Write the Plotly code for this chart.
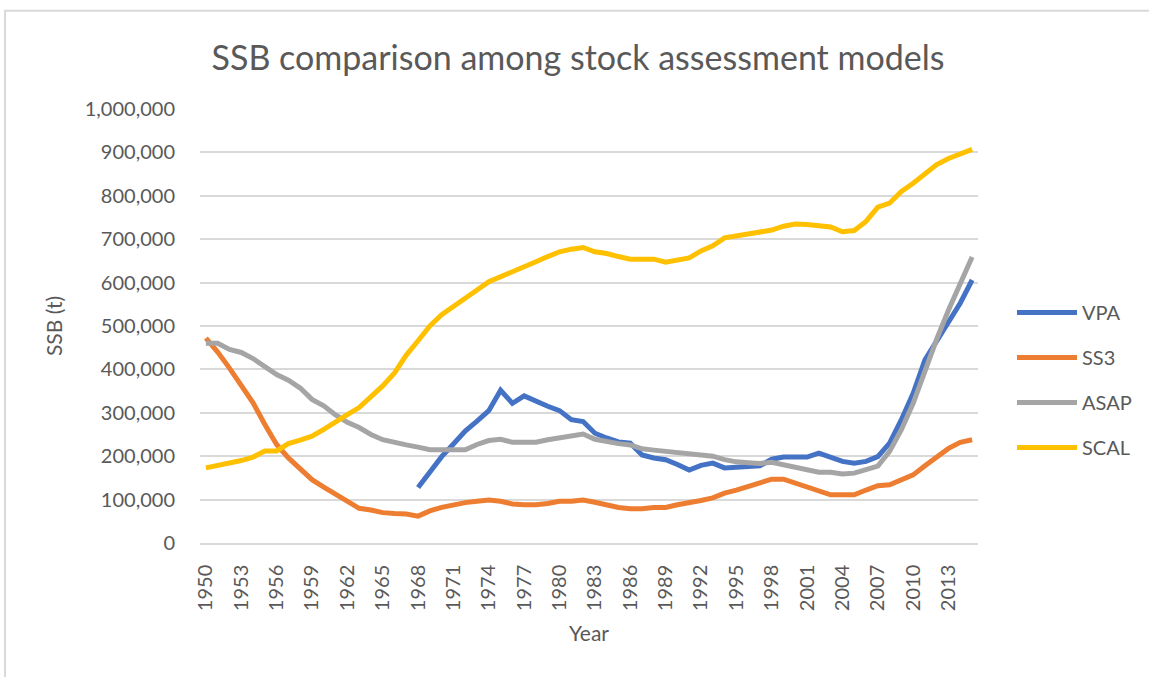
import plotly.graph_objects as go

years = list(range(1950, 2016))

vpa = [None] * 18 + [
    128, 163, 199, 228, 258, 281, 305, 352, 322, 339,
    326, 315, 305, 284, 280, 253, 242, 233, 230, 203,
    196, 192, 181, 168, 179, 184, 173, 175, 175, 178,
    193, 198, 198, 198, 207, 196, 188, 184, 188, 199,
    230, 284, 345, 422, 464, 510, 553, 606]

ss3 = [472, 440, 403, 365, 323, 273, 227, 196, 169, 146,
       129, 112, 96, 80, 76, 70, 68, 67, 62, 74,
       82, 88, 93, 96, 99, 96, 90, 88, 88, 91,
       96, 96, 99, 94, 88, 82, 79, 79, 82, 82,
       88, 92, 98, 104, 115, 122, 130, 139, 147, 147,
       138, 130, 123, 111, 111, 111, 122, 132, 134, 144,
       157, 178, 197, 218, 232, 238]

asap = [460, 460, 446, 439, 425, 406, 388, 375, 357, 331,
        316, 295, 278, 266, 250, 238, 231, 226, 221, 215,
        215, 215, 215, 227, 236, 239, 232, 232, 232, 238,
        242, 248, 251, 239, 233, 229, 226, 217, 214, 211,
        207, 205, 203, 200, 192, 187, 185, 183, 186, 180,
        176, 169, 163, 163, 159, 161, 168, 177, 211, 261,
        322, 399, 470, 537, 599, 659]

scal = [173, 178, 184, 190, 198, 212, 212, 229, 237, 246,
        262, 280, 296, 312, 336, 362, 392, 433, 466, 500,
        526, 546, 564, 583, 602, 613, 625, 634, 648, 660,
        671, 677, 681, 671, 667, 660, 654, 654, 654, 647,
        653, 657, 673, 685, 703, 707, 713, 716, 721, 730,
        735, 734, 730, 728, 717, 720, 741, 774, 783, 810,
        829, 852, 872, 886, 896, 907]

series_names = ["VPA", "SS3", "ASAP", "SCAL"]
series_values = [vpa, ss3, asap, scal]
series_colors = ["#4472C4", "#ED7D31", "#A5A5A5", "#FFC000"]

x_tick_years = list(range(1950, 2016, 3))
y_tick_vals = list(range(0, 1000001, 100000))
y_tick_text = [f"{v:,}" for v in y_tick_vals]

FONT = "Lato"
TXT = "#595959"

fig = go.Figure()
for name, vals, col in zip(series_names, series_values, series_colors):
    fig.add_trace(go.Scatter(
        x=years,
        y=[None if v is None else v * 1000 for v in vals],
        mode="lines", name=name, legendgroup=name,
        line=dict(color=col, width=5),
        connectgaps=False,
    ))

# plot area in pixels: x 200..978, y 108.5..543.3
L, R, T, B = 200, 978, 108.5, 543.3
W, H = 1149, 677
def px_x(p):
    return (p - L) / (R - L)
def px_y(p):
    return (B - p) / (B - T)

fig.update_layout(
    width=W, height=H,
    margin=dict(l=L, r=W - R, t=T, b=H - B),
    paper_bgcolor="white", plot_bgcolor="white",
    font=dict(family=FONT, color=TXT, size=20),
    title=dict(text="SSB comparison among stock assessment models",
               font=dict(family=FONT, size=34, color=TXT),
               x=578 / W, xref="container", xanchor="center",
               y=1 - 58 / H, yref="container", yanchor="middle"),
    xaxis=dict(
        range=[1949.5, 2015.5], tickmode="array", tickvals=x_tick_years,
        ticktext=[str(y) for y in x_tick_years], tickangle=-90,
        tickfont=dict(size=20, color=TXT, family=FONT),
        showgrid=False, zeroline=False,
        showline=True, linecolor="#D9D9D9", linewidth=1.5,
        ticks="outside", ticklen=12, tickcolor="rgba(0,0,0,0)",
        title=dict(text="Year", font=dict(size=21, color=TXT, family=FONT), standoff=16),
    ),
    yaxis=dict(
        range=[0, 1000000], tickmode="array", tickvals=y_tick_vals, ticktext=y_tick_text,
        tickfont=dict(size=20, color=TXT, family=FONT),
        showgrid=True, gridcolor="#D9D9D9", gridwidth=1.5,
        zeroline=False, showline=False,
        ticks="outside", ticklen=20, tickcolor="rgba(0,0,0,0)",
        title=dict(text="SSB (t)", font=dict(size=21, color=TXT, family=FONT), standoff=16),
    ),
    legend=dict(
        x=px_x(1012), y=px_y(380), xanchor="left", yanchor="middle",
        font=dict(size=20, color=TXT, family=FONT),
        tracegroupgap=16, itemwidth=60, bgcolor="rgba(0,0,0,0)",
    ),
    shapes=[dict(type="rect", xref="paper", yref="paper",
                 x0=px_x(5), x1=px_x(1165), y0=px_y(700), y1=px_y(10),
                 line=dict(color="#D9D9D9", width=2), fillcolor="rgba(0,0,0,0)",
                 layer="below")],
)

fig.write_html("out.html",
               config={"displayModeBar": False},
               post_script="document.body.style.margin='0';document.body.style.overflow='hidden';")
